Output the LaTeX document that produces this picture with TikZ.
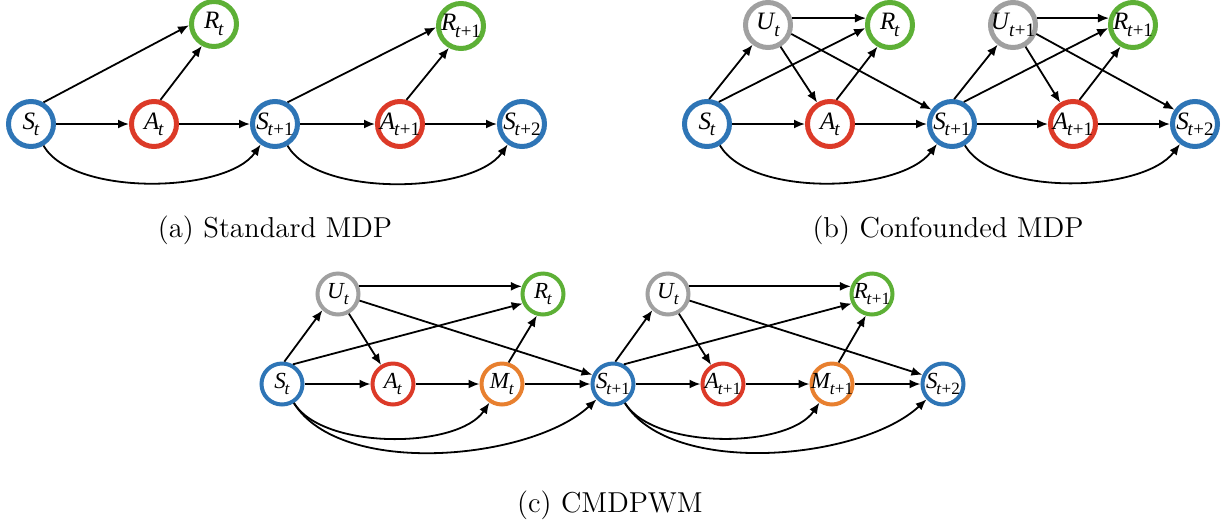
\documentclass[tikz,border=0pt]{standalone}
\usepackage{fontspec}
\newfontfamily\varfont{Liberation Serif}
\usetikzlibrary{arrows.meta,positioning}
\definecolor{sblue}{HTML}{2E75B6}
\definecolor{ared}{HTML}{DC3A28}
\definecolor{rgreen}{HTML}{5DB036}
\definecolor{ugray}{HTML}{A0A0A0}
\definecolor{morange}{HTML}{E8802F}
% variable name with subscript t...
\newcommand{\subsz}{9.5}
\newcommand{\vlab}[2]{\makebox[0pt]{\textit{#1}\kern-.6pt\raisebox{-.55ex}{\fontsize{\subsz}{\subsz}\selectfont\textit{t}#2}}}

\begin{document}
\begin{tikzpicture}[x=0.5pt,y=-0.5pt,>={Latex[length=5.5pt,width=4.5pt]},
    var/.style={circle, draw, line width=2.5pt, minimum size=22.5pt, inner sep=0pt,
        font=\varfont\fontsize{12.5}{13}\selectfont},
    sv/.style={var, draw=sblue}, av/.style={var, draw=ared}, rv/.style={var, draw=rgreen},
    uv/.style={var, draw=ugray}, mv/.style={var, draw=morange},
    small/.style={line width=2pt, minimum size=20.5pt,
        font=\varfont\fontsize{11.5}{12}\selectfont\renewcommand\subsz{8.6}},
    arr/.style={->, line width=.9pt},
    subcap/.style={font=\fontsize{14.4}{17}\selectfont}]
  \useasboundingbox (0,0) rectangle (1228,527);

  % (a) standard MDP
  \node[sv] (aS0) at (31,124) {\vlab{S}{}};
  \node[av] (aA0) at (154,124) {\vlab{A}{}};
  \node[sv] (aS1) at (275,124) {\vlab{S}{+1}};
  \node[av] (aA1) at (400,124) {\vlab{A}{+1}};
  \node[sv] (aS2) at (522,124) {\vlab{S}{+2}};
  \node[rv] (aR0) at (214,24) {\vlab{R}{}};
  \node[rv] (aR1) at (461,26) {\vlab{R}{+1}};
  \foreach \i/\j in {0/1,1/2} {
    \draw[arr] (aS\i) -- (aA\i);
    \draw[arr] (aA\i) -- (aS\j);
    \draw[arr] (aS\i.60) -- (aR\i.183);
    \draw[arr] (aA\i.75) -- (aR\i.-119);
    \draw[arr] (aS\i) to[out=-60,in=-125,looseness=.7] (aS\j);
  }
  \node[subcap] (capa) at (275,230) {(a) Standard MDP};

  % (b) confounded MDP
  \node[sv] (bS0) at (707,124) {\vlab{S}{}};
  \node[uv] (bU0) at (768,25) {\vlab{U}{}};
  \node[rv] (bR0) at (890,25) {\vlab{R}{}};
  \node[av] (bA0) at (830,124) {\vlab{A}{}};
  \node[sv] (bS1) at (952,124) {\vlab{S}{+1}};
  \node[uv] (bU1) at (1013,25) {\vlab{U}{+1}};
  \node[rv] (bR1) at (1133,25) {\vlab{R}{+1}};
  \node[av] (bA1) at (1073,124) {\vlab{A}{+1}};
  \node[sv] (bS2) at (1195,124) {\vlab{S}{+2}};
  \foreach \i/\j in {0/1,1/2} {
    \draw[arr] (bS\i.85) -- (bU\i.-128);
    \draw[arr] (bS\i.62) -- (bR\i.187);
    \draw[arr] (bS\i) -- (bA\i);
    \draw[arr] (bU\i.16) -- (bR\i.164);
    \draw[arr] (bU\i.-60) -- (bA\i.121);
    \draw[arr] (bU\i.-21) -- (bS\j.145);
    \draw[arr] (bA\i.75) -- (bR\i.-120);
    \draw[arr] (bA\i) -- (bS\j);
    \draw[arr] (bS\i) to[out=-59,in=-127,looseness=.72] (bS\j);
  }
  \node[subcap] (capb) at (948,230) {(b) Confounded MDP};

  % (c) CMDPWM
  \node[sv,small] (cS0) at (282,384) {\vlab{S}{}};
  \node[uv,small] (cU0) at (338,294) {\vlab{U}{}};
  \node[rv,small] (cR0) at (543,294) {\vlab{R}{}};
  \node[av,small] (cA0) at (393,384) {\vlab{A}{}};
  \node[mv,small] (cM0) at (502,384) {\vlab{M}{}};
  \node[sv,small] (cS1) at (613,384) {\vlab{S}{+1}};
  \node[uv,small] (cU1) at (668,294) {\vlab{U}{}};
  \node[rv,small] (cR1) at (872,294) {\vlab{R}{+1}};
  \node[av,small] (cA1) at (723,384) {\vlab{A}{+1}};
  \node[mv,small] (cM1) at (832,384) {\vlab{M}{+1}};
  \node[sv,small] (cS2) at (943,384) {\vlab{S}{+2}};
  \foreach \i/\j in {0/1,1/2} {
    \draw[arr] (cS\i.84) -- (cU\i.-134);
    \draw[arr] (cS\i.61) -- (cR\i.205);
    \draw[arr] (cS\i) -- (cA\i);
    \draw[arr] (cU\i.20) -- (cR\i.160);
    \draw[arr] (cU\i.-61) -- (cA\i.122);
    \draw[arr] (cU\i.-17) -- (cS\j.156);
    \draw[arr] (cA\i) -- (cM\i);
    \draw[arr] (cM\i.73) -- (cR\i.-106);
    \draw[arr] (cM\i) -- (cS\j);
    \draw[arr] (cS\i) to[out=-58,in=-124,looseness=.73] (cM\i);
    \draw[arr] (cS\i) to[out=-58,in=-137,looseness=.75] (cS\j);
  }
  \node[subcap] (capc) at (610,505) {(c) CMDPWM};
\end{tikzpicture}
\end{document}
